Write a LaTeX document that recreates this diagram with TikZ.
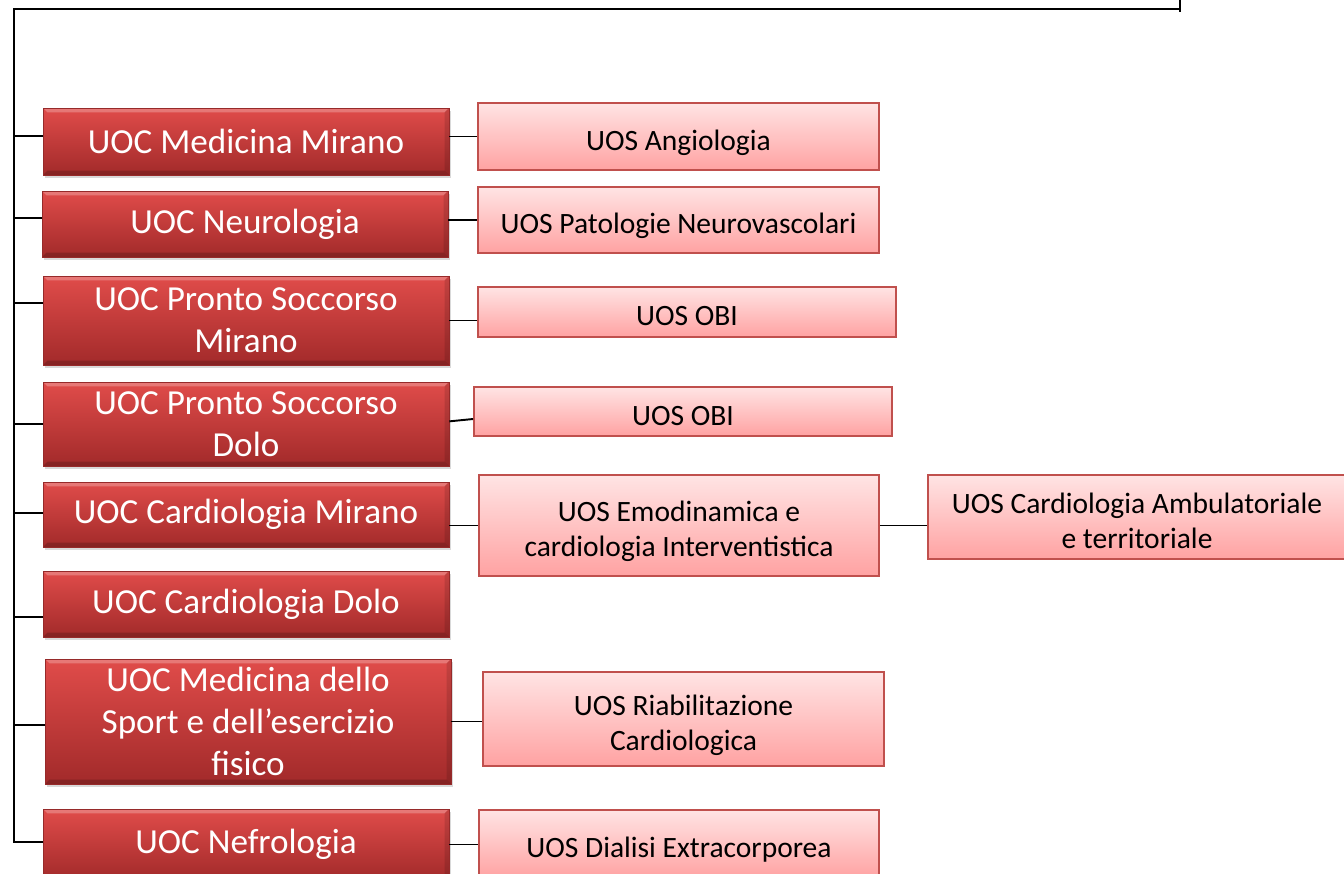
\documentclass[tikz,border=0pt]{standalone}
\usepackage{fontspec}
\setmainfont{Carlito}
\usepackage{xcolor}
\usepackage{tikz}
\usetikzlibrary{calc,shadows}

\definecolor{uocTop}{RGB}{224,76,74}
\definecolor{uocBot}{RGB}{162,42,42}
\definecolor{uocEdge}{RGB}{150,42,42}
\definecolor{uosTop}{RGB}{255,228,228}
\definecolor{uosBot}{RGB}{255,162,162}
\definecolor{uosEdge}{RGB}{192,80,77}

% sub-unit text sits a little below the box centre
\newcommand{\uoslines}[1]{\raisebox{-3.8pt}[\height][\depth]{\begin{tabular}{@{}c@{}}#1\end{tabular}}}

\begin{document}
\begin{tikzpicture}[
    x=0.02cm, y=-0.02cm,
    link/.style={line width=1.1pt,black},
    uoc/.style={draw=uocEdge,line width=0.4pt,top color=uocTop,bottom color=uocBot,
        text=white,align=center,inner sep=2pt,
        font=\fontsize{20}{23.8}\selectfont,
        drop shadow={opacity=0.3,shadow xshift=1.2pt,shadow yshift=-1.5pt},
        path picture={
            \fill[white,opacity=0.25] (path picture bounding box.north west) -- (path picture bounding box.north east)
                -- ([shift={(-2.5pt,-2.5pt)}]path picture bounding box.north east)
                -- ([shift={(2.5pt,-2.5pt)}]path picture bounding box.north west) -- cycle;
            \fill[black,opacity=0.18] (path picture bounding box.south west) -- (path picture bounding box.south east)
                -- ([shift={(-2.5pt,2.5pt)}]path picture bounding box.south east)
                -- ([shift={(2.5pt,2.5pt)}]path picture bounding box.south west) -- cycle;
            \fill[black,opacity=0.12] (path picture bounding box.north east) -- (path picture bounding box.south east)
                -- ([shift={(-2.5pt,2.5pt)}]path picture bounding box.south east)
                -- ([shift={(-2.5pt,-2.5pt)}]path picture bounding box.north east) -- cycle;
        }},
    uos/.style={draw=uosEdge,line width=1.1pt,top color=uosTop,bottom color=uosBot,
        text=black,inner sep=2pt,
        font=\fontsize{16.8}{20}\selectfont},
]
    \path[use as bounding box] (0,0) rectangle (1344,874);

    % main units
    \node[uoc,minimum width=8.12cm,minimum height=1.34cm] (m1) at (246,141.5) {UOC Medicina Mirano};
    \node[uoc,minimum width=8.12cm,minimum height=1.32cm] (m2) at (245,224) {UOC Neurologia};
    \node[uoc,minimum width=8.12cm,minimum height=1.78cm] (m3) at (246,320.5) {UOC Pronto Soccorso\\Mirano};
    \node[uoc,minimum width=8.12cm,minimum height=1.68cm] (m4) at (246,424) {UOC Pronto Soccorso\\Dolo};
    \node[uoc,minimum width=8.12cm,minimum height=1.30cm] (m5) at (246,514.5) {UOC Cardiologia Mirano};
    \node[uoc,minimum width=8.12cm,minimum height=1.32cm] (m6) at (246,604) {UOC Cardiologia Dolo};
    \node[uoc,minimum width=8.12cm,minimum height=2.50cm] (m7) at (248,721.5) {UOC Medicina dello\\Sport e dell’esercizio\\fisico};
    \node[uoc,minimum width=8.12cm,minimum height=1.42cm] (m8) at (246,844.5) {UOC Nefrologia};

    % simple units
    \node[uos,minimum width=8.02cm,minimum height=1.34cm] (s1) at (678.5,136.5) {\uoslines{UOS Angiologia}};
    \node[uos,minimum width=8.02cm,minimum height=1.32cm] (s2) at (678.5,220) {\uoslines{UOS Patologie Neurovascolari}};
    \node[uos,minimum width=8.36cm,minimum height=1.00cm] (s3) at (687,312) {\uoslines{UOS OBI}};
    \node[uos,minimum width=8.36cm,minimum height=0.98cm] (s4) at (683,411.5) {\uoslines{UOS OBI}};
    \node[uos,minimum width=8.00cm,minimum height=2.02cm] (s5) at (679,525.5) {\uoslines{UOS Emodinamica e\\cardiologia Interventistica}};
    \node[uos,minimum width=8.36cm,minimum height=1.68cm] (s6) at (1137,517) {\uoslines{UOS Cardiologia Ambulatoriale\\e territoriale}};
    \node[uos,minimum width=8.02cm,minimum height=1.88cm] (s7) at (683.5,719) {\uoslines{UOS Riabilitazione\\Cardiologica}};
    \node[uos,minimum width=8.00cm,minimum height=1.36cm] (s8) at (679,844) {\uoslines{UOS Dialisi Extracorporea}};

    % tree
    \coordinate (root) at (1180,0);
    \coordinate (trunk) at (14,9);
    \draw[link] (root) -- ++(0,12);
    \draw[link] (root |- trunk) -- (trunk) |- ([yshift=1.5pt]m8.west);
    \draw[link] ([yshift=3pt]m1.west) -| (trunk);
    \draw[link] ([yshift=3.4pt]m2.west) -| (trunk);
    \draw[link] ([yshift=9.9pt]m3.west) -| (trunk);
    \draw[link] (m4.west) -| (trunk);
    \draw[link] ([yshift=0.9pt]m5.west) -| (trunk);
    \draw[link] ([yshift=-7.4pt]m6.west) -| (trunk);
    \draw[link] ([yshift=-2pt]m7.west) -| (trunk);

    \draw[link] (m1.east |- s1.west) -- (s1.west);
    \draw[link] (m2.east |- s2.west) -- (s2.west);
    \draw[link] (m3.east) -- (m3.east -| s3.west);
    \draw[link] ([yshift=1.5pt]m4.east) -- ($(m4.east -| s4.west)+(0,-5)$);
    \draw[link] (s5.west -| m5.east) -- (s5.west);
    \draw[link] (s5.east) -- (s5.east -| s6.west);
    \draw[link] (m7.east) -- (m7.east -| s7.west);
    \draw[link] (m8.east) -- (m8.east -| s8.west);
\end{tikzpicture}
\end{document}
